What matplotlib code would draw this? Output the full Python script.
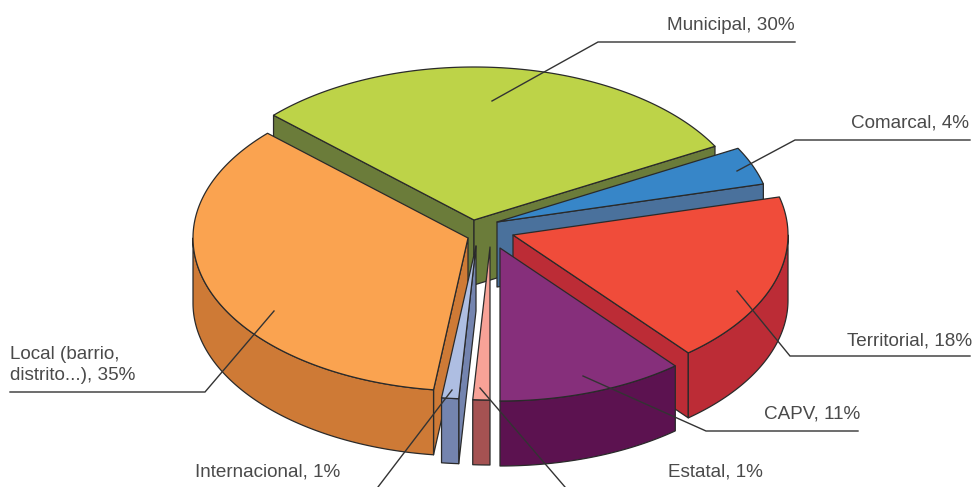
import numpy as np
import matplotlib
matplotlib.use('Agg')
from matplotlib import pyplot as plt
from matplotlib.patches import Polygon

names = ['Municipal', 'Comarcal', 'Territorial', 'CAPV', 'Estatal', 'Internacional', 'Local']
values = [30, 4, 18, 11, 1, 1, 35]
top_colors = ['#BDD348', '#3786C8', '#F04C3A', '#862F7B', '#F8A297', '#AEBEE2', '#FAA350']
side_colors = ['#6B7C3A', '#4A719C', '#BC2C36', '#5C1250', '#A55252', '#7484AF', '#CE7A36']
label_texts = ['Municipal, 30%', 'Comarcal, 4%', 'Territorial, 18%', 'CAPV, 11%',
               'Estatal, 1%', 'Internacional, 1%', 'Local (barrio,\ndistrito...), 35%']

# apex of each exploded slice, in pixels
centers = [(474, 220), (497, 222), (513, 235), (500, 248), (490, 247), (476, 246), (468, 238)]
rx, ry, depth = 275, 153, 65
start_angle = 136.8
draw_order = [0, 1, 2, 6, 5, 4, 3]
edge = '#2a2a2a'

fig = plt.figure(figsize=(9.72, 4.87), dpi=100)
ax = fig.add_axes([0, 0, 1, 1])
ax.set_xlim(0, 972)
ax.set_ylim(487, 0)
ax.axis('off')

# slice angles come from the values, clockwise
ends = start_angle - np.cumsum(values) * 3.6
starts = np.concatenate([[start_angle], ends[:-1]])


def rim(cx, cy, a0, a1):
    t = np.radians(np.linspace(a0, a1, max(int(abs(a1 - a0) * 2), 2)))
    return np.column_stack([cx + rx * np.cos(t), cy - ry * np.sin(t)])


def draw_wall(i, a, kw):
    cx, cy = centers[i]
    p = rim(cx, cy, a, a)[0]
    wall = [(cx, cy), p, (p[0], p[1] + depth), (cx, cy + depth)]
    ax.add_patch(Polygon(wall, facecolor=side_colors[i], **kw))


def draw_slice(i):
    cx, cy = centers[i]
    a0, a1 = starts[i], ends[i]
    kw = dict(edgecolor=edge, linewidth=0.9, joinstyle='round')
    # radial walls, only those facing the viewer
    if np.cos(np.radians(a0)) < 0:
        draw_wall(i, a0, kw)
    if np.cos(np.radians(a1)) > 1e-6:
        draw_wall(i, a1, kw)
    # outer wall, only the part on the front half
    hi = min(a0, 0)
    lo = max(a1, -180)
    if hi > lo:
        r = rim(cx, cy, hi, lo)
        low = r + [0, depth]
        ax.add_patch(Polygon(np.vstack([r, low[::-1]]), facecolor=side_colors[i], **kw))
    # top
    r = rim(cx, cy, a0, a1)
    ax.add_patch(Polygon(np.vstack([[(cx, cy)], r]), facecolor=top_colors[i], **kw))


for i in draw_order:
    draw_slice(i)

# leader lines, pixel positions
leaders = [
    [(795, 42), (598, 42), (492, 101)],
    [(970, 140), (795, 140), (737, 171)],
    [(970, 356), (790, 356), (737, 291)],
    [(858, 431), (706, 431), (583, 376)],
    [(565, 487), (480, 388)],
    [(378, 487), (452, 390)],
    [(10, 392), (205, 392), (274, 311)],
]
for pts in leaders:
    xs, ys = zip(*pts)
    ax.plot(xs, ys, color='#333333', lw=1.0, solid_joinstyle='miter')

text_pos = [(667, 26), (851, 123), (847, 341), (764, 414), (668, 472), (195, 472), (10, 365)]
for (x, y), s in zip(text_pos, label_texts):
    ax.text(x, y, s, fontsize=13.6, family='Liberation Sans', color='#4a4a4a',
            ha='left', va='center', linespacing=1.25)

fig.savefig('out.png', dpi=100)
